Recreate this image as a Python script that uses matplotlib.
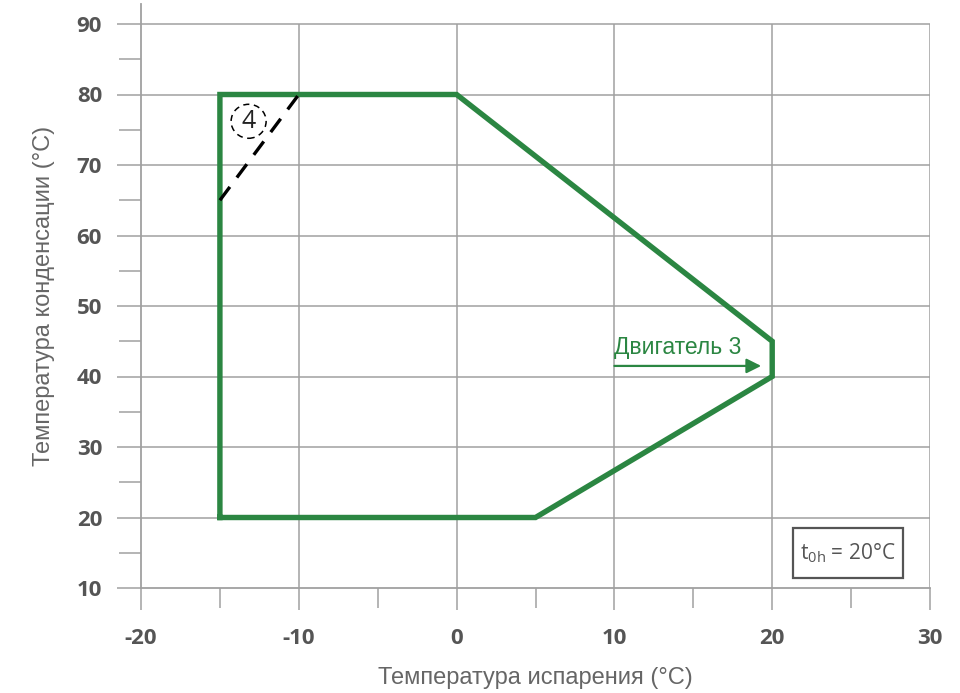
import matplotlib
matplotlib.use("Agg")
import matplotlib.pyplot as plt
from matplotlib.patches import Ellipse, Rectangle

plt.rcParams["axes.unicode_minus"] = False

# ---- data ----
env_x = [-15, -15, 0, 20, 20, 5, -15]
env_y = [20, 80, 80, 45, 40, 20, 20]
dash_x = [-15, -10]
dash_y = [65, 80]
x_major = [-20, -10, 0, 10, 20, 30]
x_minor = [-15, -5, 5, 15, 25]
y_major = [10, 20, 30, 40, 50, 60, 70, 80, 90]
y_minor = [15, 25, 35, 45, 55, 65, 75, 85]
arrow_from = (10, 41.5)
arrow_to = (19.3, 41.5)
arrow_label = "Двигатель 3"
zone_label = "4"
zone_center = (-13.18, 76.2)
xlabel = "Температура испарения (°C)"
ylabel = "Температура конденсации (°C)"

GREEN = "#2b8642"
GRID = "#a0a0a0"
TXT = "#555555"

fig = plt.figure(figsize=(9.6, 6.93), dpi=100)
ax = fig.add_axes([141/960, 1-588/693, (930-141)/960, (588-4)/693])
ax.set_xlim(-20, 30)
ax.set_ylim(10, 10 + 584/7.05)

for s in ["top", "right"]:
    ax.spines[s].set_visible(False)
for s in ["left", "bottom"]:
    ax.spines[s].set_color(GRID)
    ax.spines[s].set_linewidth(1.3)

# grid lines
ax.hlines([v for v in y_major if v > 10], -20, 30, color=GRID, lw=1.1, zorder=1)
ax.vlines([v for v in x_major if v > -20], 10, 90, color=GRID, lw=1.1, zorder=1)

ax.set_xticks(x_major)
ax.set_xticks(x_minor, minor=True)
ax.set_yticks(y_major)
ax.set_yticks(y_minor, minor=True)
ax.tick_params(axis="x", which="major", direction="out", length=16, width=1.1,
               color=GRID, pad=13, labelsize=16, labelcolor=TXT)
ax.tick_params(axis="x", which="minor", direction="out", length=14.5, width=1.1, color=GRID)
ax.tick_params(axis="y", which="major", direction="out", length=17, width=1.1,
               color=GRID, pad=11, labelsize=16, labelcolor=TXT)
ax.tick_params(axis="y", which="minor", direction="out", length=16, width=1.1, color=GRID)
for lab in ax.get_xticklabels() + ax.get_yticklabels():
    lab.set_fontfamily("Open Sans")
    lab.set_fontweight("bold")

ax.set_xlabel(xlabel, fontsize=17, color="#666666", family="Liberation Sans", labelpad=13)
ax.set_ylabel(ylabel, fontsize=17, color="#666666", family="Liberation Sans", labelpad=16)

# envelope
ax.plot(env_x, env_y, color=GREEN, lw=3.9, solid_joinstyle="miter", zorder=3)
ax.plot(dash_x, dash_y, color="black", lw=2.4, dashes=(5, 3.5), zorder=4)

# zone marker
ax.add_patch(Ellipse(zone_center, 35/15.78, 34/7.05, fill=False, ec="black",
                     lw=1.1, ls=(0, (4, 3)), zorder=4))
ax.text(zone_center[0], zone_center[1], zone_label, ha="center", va="center",
        fontsize=18, family="Open Sans", color="#222222", zorder=5)

# arrow
ax.annotate("", xy=arrow_to, xytext=arrow_from,
            arrowprops=dict(arrowstyle="-|>", color=GREEN, lw=1.6, mutation_scale=22,
                            shrinkA=0, shrinkB=0), zorder=5)
ax.text(arrow_from[0], arrow_from[1] + 1.0, arrow_label, ha="left", va="bottom",
        fontsize=16.5, family="Liberation Sans", color=GREEN, zorder=5)

# condition box
ax.add_patch(Rectangle((793, 115), 110, 50, transform=None, fill=False,
                       ec="#555555", lw=1.6, zorder=5))
fig.text(848/960, 1-553/693, r"t$_{\mathregular{0h}}$ = 20°C", ha="center", va="center",
         fontsize=15, family="Open Sans", color=TXT)

fig.savefig("out.png", dpi=100)
